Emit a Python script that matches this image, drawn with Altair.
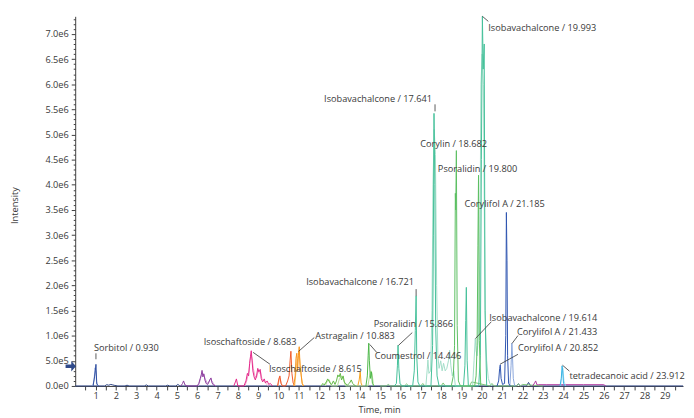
import altair as alt
import pandas as pd

# ---------------- chromatogram traces: time (min), intensity (x1e6) ----------------
baseline_t = [0.0, 1.45, 1.55, 1.65, 1.75, 1.85, 1.95, 2.1, 2.45, 2.55, 2.65, 3.4, 3.5, 3.6,
              4.45, 4.55, 4.65, 4.95, 5.05, 5.15, 21.7, 21.8, 21.9, 22.2, 22.3, 22.4, 29.9]
baseline_v = [0, 0, 0.025, 0.015, 0.03, 0.02, 0.01, 0, 0, 0.015, 0, 0, 0.02, 0,
              0, 0.015, 0, 0, 0.03, 0, 0, 0.04, 0, 0, 0.07, 0, 0]

sorb_light_t = [0.86, 0.93, 0.97, 1.01, 1.05, 1.12]
sorb_light_v = [0, 0.12, 0.36, 0.30, 0.08, 0]
sorb_t = [0.88, 0.95, 0.99, 1.02, 1.06, 1.14]
sorb_v = [0, 0.18, 0.30, 0.43, 0.04, 0]

purple_light_t = [6.05, 6.12, 6.2, 6.26, 6.32, 6.4, 6.5, 6.6, 6.66, 6.72, 6.8, 6.9]
purple_light_v = [0, 0.08, 0.2, 0.27, 0.22, 0.14, 0.05, 0.1, 0.14, 0.1, 0.05, 0]
purple_t = [5.2, 5.28, 5.33, 5.4, 5.5, 6.0, 6.08, 6.15, 6.2, 6.24, 6.28, 6.33, 6.38, 6.44,
            6.52, 6.58, 6.63, 6.68, 6.73, 6.8, 6.9]
purple_v = [0, 0.05, 0.1, 0.02, 0, 0, 0.05, 0.15, 0.22, 0.31, 0.18, 0.24, 0.12, 0.05,
            0.03, 0.08, 0.13, 0.16, 0.06, 0.02, 0]

magenta_light_t = [8.35, 8.45, 8.55, 8.6, 8.65, 8.7, 8.76, 8.84, 8.92, 9.0, 9.06, 9.12, 9.2,
                   9.3, 9.4, 9.5]
magenta_light_v = [0, 0.12, 0.3, 0.5, 0.62, 0.55, 0.35, 0.2, 0.16, 0.3, 0.25, 0.28, 0.12,
                   0.1, 0.04, 0]
magenta_t = [7.8, 7.88, 7.93, 8.0, 8.3, 8.4, 8.47, 8.53, 8.58, 8.62, 8.66, 8.7, 8.74, 8.8,
             8.86, 8.92, 8.98, 9.04, 9.1, 9.15, 9.22, 9.3, 9.36, 9.44, 9.52, 9.6, 9.7]
magenta_v = [0, 0.08, 0.14, 0, 0, 0.1, 0.25, 0.2, 0.45, 0.58, 0.7, 0.5, 0.3, 0.18,
             0.12, 0.2, 0.35, 0.28, 0.33, 0.15, 0.08, 0.14, 0.06, 0.1, 0.03, 0.05, 0]

salmon_t = [9.98, 10.05, 10.1, 10.18]
salmon_v = [0, 0.18, 0.12, 0]
redorange_t = [9.95, 10.02, 10.07, 10.12, 10.2, 10.35, 10.45, 10.52, 10.57, 10.61, 10.66,
               10.72, 10.8]
redorange_v = [0, 0.14, 0.2, 0.05, 0, 0, 0.1, 0.2, 0.5, 0.69, 0.25, 0.06, 0]

orange_light_t = [10.8, 10.88, 10.95, 11.0, 11.05, 11.12, 11.2]
orange_light_v = [0, 0.4, 0.55, 0.7, 0.5, 0.2, 0]
orange_t = [10.75, 10.82, 10.86, 10.9, 10.94, 10.98, 11.02, 11.06, 11.1, 11.16, 11.25]
orange_v = [0, 0.2, 0.55, 0.65, 0.3, 0.6, 0.78, 0.4, 0.28, 0.05, 0]
orange2_t = [13.9, 13.97, 14.02, 14.06, 14.12]
orange2_v = [0, 0.12, 0.29, 0.06, 0]

green_light_t = [12.3, 12.4, 12.5, 12.6, 12.9, 13.0, 13.1, 13.2, 13.3, 14.4, 14.48, 14.55,
                 14.6, 14.68]
green_light_v = [0, 0.1, 0.12, 0, 0, 0.15, 0.2, 0.12, 0, 0, 0.2, 0.3, 0.25, 0]
green_t = [12.1, 12.18, 12.25, 12.35, 12.42, 12.48, 12.55, 12.62, 12.7, 12.78, 12.85, 12.92,
           12.98, 13.04, 13.1, 13.18, 13.24, 13.3, 13.4, 13.5, 13.58, 13.65, 13.72, 13.8]
green_v = [0, 0.05, 0.02, 0.08, 0.14, 0.1, 0.05, 0.03, 0.1, 0.03, 0.1, 0.22,
           0.18, 0.25, 0.12, 0.2, 0.08, 0.04, 0.02, 0.06, 0.12, 0.05, 0.02, 0]
coumestrol_t = [14.3, 14.37, 14.41, 14.44, 14.47, 14.52, 14.57, 14.62, 14.7]
coumestrol_v = [0, 0.2, 0.6, 0.85, 0.5, 0.15, 0.28, 0.05, 0]

noise_t = [15.0, 15.3, 15.4, 15.5, 16.2, 16.3, 16.4, 17.0, 17.1, 17.2, 18.0, 18.1, 18.2,
           19.4, 19.5, 20.4, 20.5, 20.6, 21.7, 21.8, 21.9, 22.0, 23.0]
noise_v = [0, 0, 0.03, 0, 0, 0.04, 0, 0, 0.05, 0, 0, 0.06, 0,
           0, 0.08, 0, 0.05, 0, 0, 0.04, 0, 0.03, 0]

teal_light_t = [17.25, 17.31, 17.35, 17.4, 17.48, 17.55, 17.6, 17.66, 17.72, 17.78, 17.84,
                17.9, 17.98, 18.05, 18.12, 18.2, 18.28, 18.36, 18.42, 18.48, 18.55, 18.62,
                18.7, 19.55, 19.62, 19.68, 19.72, 19.77, 19.83, 19.9, 19.96, 20.02, 20.08,
                20.13, 20.18, 20.24, 20.32, 20.4, 20.5]
teal_light_v = [0, 0.3, 0.52, 0.25, 0.3, 1.5, 4.0, 5.1, 4.6, 2.0, 0.6,
                0.35, 0.5, 0.3, 0.45, 0.3, 0.35, 0.5, 0.71, 0.4, 0.2, 0.3,
                0, 0, 0.5, 0.94, 0.7, 0.6, 1.0, 2.5, 6.0, 6.6, 6.0,
                3.16, 1.2, 0.5, 0.15, 0.05, 0]
teal_t = [15.7, 15.8, 15.85, 15.88, 15.92, 15.98, 16.1, 16.6, 16.68, 16.73, 16.77, 16.8,
          16.86, 16.95, 17.5, 17.58, 17.62, 17.65, 17.69, 17.73, 17.8, 17.9, 19.1, 19.17,
          19.21, 19.24, 19.28, 19.34, 19.85, 19.93, 19.98, 20.03, 20.07, 20.12, 20.16, 20.24]
teal_v = [0, 0.05, 0.4, 0.81, 0.35, 0.04, 0, 0, 0.3, 1.1, 1.79, 0.6,
          0.08, 0, 0, 0.8, 3.0, 5.42, 4.0, 1.2, 0.2, 0, 0, 0.4,
          1.3, 1.96, 0.5, 0, 0, 0.6, 4.5, 7.35, 6.3, 6.8, 1.5, 0]
green2_t = [18.5, 18.6, 18.66, 18.7, 18.72, 18.75, 18.79, 18.85, 18.95, 19.65, 19.72, 19.77,
            19.81, 19.84, 19.88, 19.95]
green2_v = [0, 0.2, 0.8, 3.83, 3.5, 4.68, 1.2, 0.1, 0, 0, 0.2, 0.8,
            2.8, 4.19, 0.9, 0]

blue_light_t = [21.38, 21.44, 21.48, 21.51, 21.55, 21.62]
blue_light_v = [0, 0.4, 0.85, 0.6, 0.15, 0]
blue_t = [20.75, 20.83, 20.88, 20.91, 20.95, 21.02, 21.12, 21.18, 21.21, 21.24, 21.27,
          21.32, 21.4]
blue_v = [0, 0.1, 0.35, 0.42, 0.15, 0.03, 0.05, 1.0, 3.45, 2.5, 0.6, 0.05, 0]

purple2_t = [22.5, 22.6, 22.65, 22.72, 22.8, 23.2, 24.0, 25.0, 26.0, 26.1]
purple2_v = [0, 0.06, 0.1, 0.02, 0.025, 0.025, 0.025, 0.025, 0.025, 0]
cyan_light_t = [23.88, 23.94, 23.99, 24.04, 24.12]
cyan_light_v = [0, 0.25, 0.35, 0.1, 0]
cyan_t = [23.85, 23.91, 23.95, 23.98, 24.02, 24.1]
cyan_v = [0, 0.15, 0.4, 0.3, 0.05, 0]

# trace id -> (times, values); drawing order follows this list
traces = [
    ("baseline", baseline_t, baseline_v),
    ("sorb_light", sorb_light_t, sorb_light_v),
    ("sorb", sorb_t, sorb_v),
    ("purple_light", purple_light_t, purple_light_v),
    ("purple", purple_t, purple_v),
    ("magenta_light", magenta_light_t, magenta_light_v),
    ("magenta", magenta_t, magenta_v),
    ("salmon", salmon_t, salmon_v),
    ("redorange", redorange_t, redorange_v),
    ("orange_light", orange_light_t, orange_light_v),
    ("orange", orange_t, orange_v),
    ("orange2", orange2_t, orange2_v),
    ("green_light", green_light_t, green_light_v),
    ("green", green_t, green_v),
    ("coumestrol", coumestrol_t, coumestrol_v),
    ("noise", noise_t, noise_v),
    ("teal_light", teal_light_t, teal_light_v),
    ("teal", teal_t, teal_v),
    ("green2", green2_t, green2_v),
    ("blue_light", blue_light_t, blue_light_v),
    ("blue", blue_t, blue_v),
    ("purple2", purple2_t, purple2_v),
    ("cyan_light", cyan_light_t, cyan_light_v),
    ("cyan", cyan_t, cyan_v),
]
trace_colors = {
    "baseline": "#2c4282", "sorb_light": "#9db0e0", "sorb": "#2f4ea0",
    "purple_light": "#c9a0d4", "purple": "#8e3f9f",
    "magenta_light": "#f5a3c9", "magenta": "#e4278a",
    "salmon": "#f8a487", "redorange": "#f15a29",
    "orange_light": "#fdc264", "orange": "#f7941d", "orange2": "#f7a21b",
    "green_light": "#b3de98", "green": "#62b946", "coumestrol": "#4cb748",
    "noise": "#7cc576", "teal_light": "#a3dec8", "teal": "#45c09a",
    "green2": "#5cbf62", "blue_light": "#8aa6dc", "blue": "#2f55b0",
    "purple2": "#b0389f", "cyan_light": "#a6dcf2", "cyan": "#36b4e5",
}

# ---------------- annotations ----------------
label_text = ["Sorbitol / 0.930", "Isoschaftoside / 8.683", "Isoschaftoside / 8.615",
              "Astragalin / 10.883", "Coumestrol / 14.446", "Psoralidin / 15.866",
              "Isobavachalcone / 16.721", "Isobavachalcone / 17.641", "Corylin / 18.682",
              "Psoralidin / 19.800", "Isobavachalcone / 19.993", "Corylifol A / 21.185",
              "Isobavachalcone / 19.614", "Corylifol A / 21.433", "Corylifol A / 20.852",
              "tetradecanoic acid / 23.912"]
label_t = [0.92, 6.32, 9.53, 11.81, 14.73, 14.68, 16.67, 17.55, 16.97, 17.84, 20.32, 19.15,
           20.37, 21.73, 21.78, 24.31]
label_v = [0.747, 0.865, 0.334, 0.983, 0.590, 1.238, 2.063, 5.70, 4.815, 4.304, 7.114, 3.616,
           1.356, 1.081, 0.747, 0.197]
label_side = ["left", "left", "left", "left", "left", "left", "right", "right", "left",
              "left", "left", "left", "left", "left", "left", "left"]

leader_t1 = [1.02, 8.75, 10.99, 14.49, 15.90, 16.77, 17.70, 20.03, 19.69, 21.49, 20.90, 23.97]
leader_v1 = [0.649, 0.668, 0.688, 0.825, 0.806, 1.926, 5.60, 7.35, 0.943, 0.845, 0.432, 0.413]
leader_t2 = [1.02, 9.58, 11.76, 14.83, 16.58, 16.77, 17.70, 20.32, 20.47, 21.78, 21.78, 24.31]
leader_v2 = [0.531, 0.432, 0.963, 0.668, 1.061, 1.788, 5.46, 7.25, 1.277, 1.002, 0.629, 0.295]

arrow_v = [0.393]

x_ticks = [k * 0.5 for k in range(1, 60)]
y_ticks = [k * 100000 for k in range(0, 74)]

# ---------------- build tables ----------------
rows = []
for tid, ts, vs in traces:
    for i, (t, v) in enumerate(zip(ts, vs)):
        rows.append({"id": tid, "i": i, "t": t, "v": v * 1e6})
df = pd.DataFrame(rows)
ids = [tr[0] for tr in traces]

labels = pd.DataFrame({"text": label_text, "t": label_t,
                       "v": [v * 1e6 for v in label_v], "side": label_side})
leaders = pd.DataFrame({"t1": leader_t1, "t2": leader_t2,
                        "v1": [v * 1e6 for v in leader_v1], "v2": [v * 1e6 for v in leader_v2]})
arrow = pd.DataFrame({"v": [v * 1e6 for v in arrow_v]})

FONT = "Open Sans"
TXT = "#3a3a3a"
FS = 9.3

xscale = alt.Scale(domain=[0, 29.9], nice=False, zero=False)
yscale = alt.Scale(domain=[0, 7.35e6], nice=False)

x_axis = alt.Axis(values=x_ticks, tickCount=1000,
                  labelExpr="datum.value % 1 == 0 ? format(datum.value, 'd') : ''",
                  labelOverlap=False, labelFlush=False, tickSize=4, tickColor="#404040",
                  domainColor="#404040", labelFont=FONT, labelFontSize=FS, labelColor=TXT,
                  labelPadding=2, grid=False, title="Time, min", titleFont=FONT,
                  titleFontSize=FS, titleFontWeight="normal", titleColor=TXT, titleY=24,
                  titleBaseline="middle")
y_axis = alt.Axis(values=y_ticks, tickCount=1000,
                  labelExpr="datum.value % 500000 == 0 ? replace(format(datum.value, '.1e'), '+', '') : ''",
                  labelOverlap=False, labelFlush=False,
                  tickSize={"condition": {"test": "datum.value % 500000 == 0", "value": 4}, "value": 2},
                  tickColor="#404040", domainColor="#404040", labelFont=FONT, labelFontSize=FS,
                  labelColor=TXT, labelPadding=3, grid=False, title="Intensity", titleFont=FONT,
                  titleFontSize=FS, titleFontWeight="normal", titleColor=TXT, titleAngle=270,
                  titleX=-61, titleY=191, titleAlign="center", titleBaseline="middle")

lines = alt.Chart(df).mark_line(strokeWidth=1).encode(
    x=alt.X("t:Q", scale=xscale, axis=x_axis),
    y=alt.Y("v:Q", scale=yscale, axis=y_axis),
    color=alt.Color("id:N", scale=alt.Scale(domain=ids, range=[trace_colors[i] for i in ids]),
                    legend=None, sort=ids),
    detail="id:N",
    order="i:Q",
)

lead = alt.Chart(leaders).mark_rule(color="#333333", strokeWidth=0.8).encode(
    x="t1:Q", x2="t2:Q", y="v1:Q", y2="v2:Q",
)

text_left = alt.Chart(labels).transform_filter("datum.side == 'left'").mark_text(
    align="left", baseline="middle", font=FONT, fontSize=FS, color=TXT
).encode(x="t:Q", y="v:Q", text="text:N")

text_right = alt.Chart(labels).transform_filter("datum.side == 'right'").mark_text(
    align="right", baseline="middle", font=FONT, fontSize=FS, color=TXT
).encode(x="t:Q", y="v:Q", text="text:N")

ARROW = "M-1,-0.35 L0.1,-0.35 L0.1,-1 L1,0 L0.1,1 L0.1,0.35 L-1,0.35 Z"
arrow_mark = alt.Chart(arrow).mark_point(shape=ARROW, filled=True, size=110, opacity=1,
                                         color="#2f4a8a").encode(
    x=alt.value(-4.5), y="v:Q"
)

chart = alt.layer(lines, lead, text_left, text_right, arrow_mark).properties(
    width=615, height=374,
    padding={"left": 68, "top": 6, "right": 3, "bottom": 30},
    autosize="none",
    background="white",
).configure_view(stroke=None)

chart.save("out.html", embed_options={"renderer": "svg", "actions": False})
